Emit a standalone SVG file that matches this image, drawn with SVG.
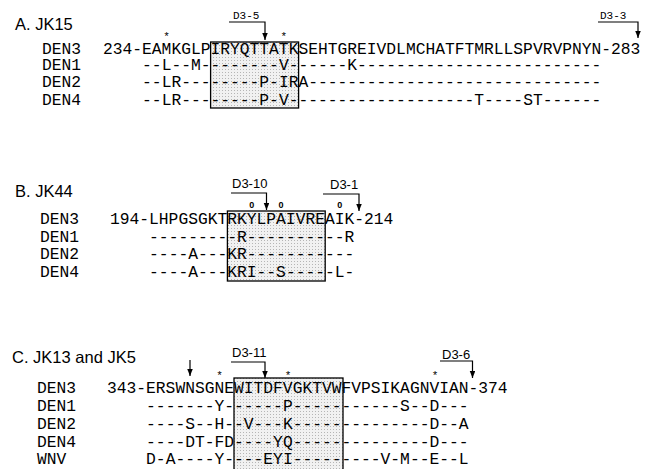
<svg xmlns="http://www.w3.org/2000/svg" width="653" height="469" viewBox="0 0 653 469">
<defs>
<pattern id="stip" width="3" height="3" patternUnits="userSpaceOnUse"><rect width="3" height="3" fill="#f1f1f1"/><rect width="1" height="1" fill="#b5b5b5"/></pattern>
<marker id="ah" markerUnits="userSpaceOnUse" markerWidth="8" markerHeight="6" refX="7" refY="2.75" orient="auto"><path d="M0,0 L7,2.75 L0,5.5 z" fill="#000"/></marker>
<style>
.seq{font-family:"Liberation Mono",monospace;font-size:16.3px;fill:#000}
.title{font-family:"Liberation Sans",Arial,sans-serif;font-size:16.5px;fill:#000}
.ep{font-family:"Liberation Sans",Arial,sans-serif;font-size:13px;fill:#000}
.epm{font-family:"Liberation Mono",monospace;font-size:11px;fill:#000}
.ast{font-family:"Liberation Mono",monospace;font-size:11px;fill:#000;text-anchor:middle}
.o{font-family:"Liberation Sans",Arial,sans-serif;font-size:9px;font-weight:bold;fill:#000;text-anchor:middle}
.conn{stroke:#000;stroke-width:1.2;fill:none}
.box{fill:url(#stip);stroke:#000;stroke-width:1.3}
</style>
</defs>
<rect width="653" height="469" fill="#fff"/>

<!-- Panel A -->
<g id="panelA">
<text class="title" x="15" y="30">A. JK15</text>
<rect id="boxA" class="box" x="210.6" y="42" width="88" height="66"/>
<text class="ast" x="166.6" y="40">*</text>
<text class="ast" x="283.9" y="40">*</text>
<text class="epm" x="233" y="19">D3-5</text>
<text class="epm" x="600" y="19">D3-3</text>
<g id="A-DEN3"><text class="seq" x="42" y="54">DEN3</text><text class="seq" x="103" y="54">234-EAMKGLPIRYQTTATKSEHTGREIVDLMCHATFTMRLLSPVRVPNYN-283</text></g>
<g id="A-DEN1"><text class="seq" x="42" y="70">DEN1</text><text class="seq" x="142.1" y="70">--L--M--------V------K-------------------------</text></g>
<g id="A-DEN2"><text class="seq" x="42" y="87">DEN2</text><text class="seq" x="142.1" y="87">--LR--------P-IRA------------------------------</text></g>
<g id="A-DEN4"><text class="seq" x="42" y="105">DEN4</text><text class="seq" x="142.1" y="105">--LR--------P-V-------------------T----ST------</text></g>
</g>

<!-- Panel B -->
<g id="panelB">
<text class="title" x="15" y="197">B. JK44</text>
<rect id="boxB" class="box" x="227.4" y="211" width="97.8" height="70"/>
<text class="o" x="251.8" y="208">0</text>
<text class="o" x="281.1" y="208">0</text>
<text class="o" x="339.7" y="208">0</text>
<text class="ep" x="232" y="188">D3-10</text>
<text class="ep" x="330" y="189">D3-1</text>
<g id="B-DEN3"><text class="seq" x="40" y="224">DEN3</text><text class="seq" x="110" y="224">194-LHPGSGKTRKYLPAIVREAIK-214</text></g>
<g id="B-DEN1"><text class="seq" x="40" y="242">DEN1</text><text class="seq" x="149.1" y="242">---------R----------R</text></g>
<g id="B-DEN2"><text class="seq" x="40" y="259">DEN2</text><text class="seq" x="149.1" y="259">----A---KR-----------</text></g>
<g id="B-DEN4"><text class="seq" x="40" y="277">DEN4</text><text class="seq" x="149.1" y="277">----A---KRI--S-----L-</text></g>
</g>

<!-- Panel C -->
<g id="panelC">
<text class="title" x="12" y="363">C. JK13 and JK5</text>
<rect id="boxC" class="box" x="234" y="378" width="109" height="95"/>
<text class="ast" x="219.5" y="379">*</text>
<text class="ast" x="288" y="379">*</text>
<text class="ast" x="435" y="379">*</text>
<text class="ep" x="232" y="357">D3-11</text>
<text class="ep" x="442" y="359">D3-6</text>
<g id="C-DEN3"><text class="seq" x="37" y="393">DEN3</text><text class="seq" x="107" y="393">343-ERSWNSGNEWITDFVGKTVWFVPSIKAGNVIAN-374</text></g>
<g id="C-DEN1"><text class="seq" x="37" y="411">DEN1</text><text class="seq" x="146.1" y="411">-------Y------P-----------S--D---</text></g>
<g id="C-DEN2"><text class="seq" x="37" y="429">DEN2</text><text class="seq" x="146.1" y="429">----S--H--V---K--------------D--A</text></g>
<g id="C-DEN4"><text class="seq" x="37" y="447">DEN4</text><text class="seq" x="146.1" y="447">----DT-FD----YQ--------------D---</text></g>
<g id="C-WNV"><text class="seq" x="37" y="464">WNV</text><text class="seq" x="146.1" y="464">D-A----Y----EYI---------V-M--E--L</text></g>
</g>

<!-- Connectors -->
<g id="connectors">
<path class="conn" d="M229,22 H265 V40" marker-end="url(#ah)"/>
<path class="conn" d="M598,22 H638 V38" marker-end="url(#ah)"/>
<path class="conn" d="M231,193 H266.5 V210" marker-end="url(#ah)"/>
<path class="conn" d="M323,194 H359 V211" marker-end="url(#ah)"/>
<path class="conn" d="M190,360 V376" marker-end="url(#ah)"/>
<path class="conn" d="M231,362 H265 V378" marker-end="url(#ah)"/>
<path class="conn" d="M440,361 H472.5 V378" marker-end="url(#ah)"/>
</g>
</svg>
